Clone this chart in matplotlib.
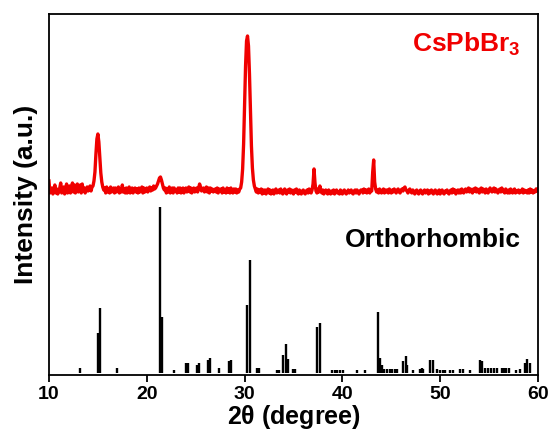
import matplotlib
matplotlib.use('Agg')
import matplotlib.pyplot as plt
import numpy as np

plt.rcParams['font.family'] = ['Liberation Sans', 'DejaVu Sans']
plt.rcParams['font.weight'] = 'bold'

# measured CsPbBr3 pattern, 0.1 deg steps from 10.0 to 60.0 (counts above background)
two_theta = np.round(np.arange(10.0, 60.05, 0.1), 1)
counts = [
    13, 1, 3, 6, 0, 4, 9, 1, 5, 0,          # 10
    3, 6, 11, 1, 4, 7, 0, 5, 10, 1,         # 11
    4, 8, 1, 6, 11, 2, 9, 1, 5, 10,         # 12
    2, 5, 9, 1, 10, 3, 6, 1, 4, 7,          # 13
    3, 6, 8, 3, 7, 8, 13, 22, 40, 55,       # 14
    60, 52, 37, 21, 12, 7, 4, 6, 1, 7,      # 15
    2, 5, 1, 7, 2, 5, 6, 1, 6, 2,           # 16
    4, 7, 1, 5, 2, 9, 2, 5, 1, 6,           # 17
    1, 5, 7, 1, 4, 6, 1, 5, 6, 2,           # 18
    5, 1, 6, 2, 4, 7, 1, 6, 2, 5,           # 19
    6, 2, 5, 7, 3, 6, 4, 8, 5, 6,           # 20
    8, 10, 13, 16, 17, 14, 10, 6, 4, 6,     # 21
    1, 5, 2, 7, 1, 4, 6, 1, 6, 3,           # 22
    4, 1, 6, 2, 6, 1, 5, 6, 1, 4,           # 23
    6, 2, 5, 7, 2, 6, 1, 5, 6, 2,           # 24
    4, 6, 2, 6, 10, 7, 3, 5, 6, 2,          # 25
    5, 7, 2, 6, 1, 6, 3, 5, 2, 4,           # 26
    5, 2, 6, 1, 5, 3, 5, 1, 6, 2,           # 27
    4, 1, 6, 2, 5, 1, 6, 3, 1, 5,           # 28
    2, 5, 1, 4, 2, 5, 6, 12, 25, 50,        # 29
    88, 128, 153, 158, 148, 120, 82, 48, 26, 14,  # 30
    8, 5, 2, 5, 1, 4, 2, 5, 0, 4,           # 31
    1, 4, 0, 3, 5, 1, 4, 0, 3, 4,           # 32
    0, 3, 5, 1, 2, 4, 1, 5, 2, 0,           # 33
    3, 5, 1, 0, 4, 2, 5, 1, 4, 2,           # 34
    0, 4, 2, 5, 1, 0, 4, 2, 0, 3,           # 35
    4, 1, 0, 3, 4, 1, 5, 2, 1, 4,           # 36
    10, 25, 11, 3, 1, 5, 2, 8, 3, 1,        # 37
    4, 0, 3, 4, 1, 0, 4, 2, 0, 3,           # 38
    1, 4, 0, 3, 4, 1, 2, 0, 4, 2,           # 39
    0, 3, 4, 1, 0, 2, 4, 1, 2, 4,           # 40
    1, 0, 3, 4, 1, 4, 2, 0, 3, 4,           # 41
    4, 1, 5, 2, 4, 1, 4, 5, 1, 4,           # 42
    3, 22, 34, 12, 5, 2, 4, 1, 5, 2,        # 43
    1, 4, 5, 1, 4, 2, 4, 1, 5, 3,           # 44
    1, 4, 2, 5, 3, 1, 4, 5, 2, 1,           # 45
    4, 5, 3, 6, 7, 4, 3, 1, 4, 5,           # 46
    2, 1, 4, 2, 0, 3, 4, 1, 0, 3,           # 47
    4, 1, 0, 3, 4, 1, 2, 4, 0, 3,           # 48
    1, 4, 2, 0, 3, 4, 1, 0, 3, 4,           # 49
    0, 3, 4, 1, 0, 3, 2, 4, 1, 0,           # 50
    3, 4, 1, 5, 2, 4, 0, 3, 4, 1,           # 51
    4, 1, 5, 3, 1, 4, 5, 2, 4, 6,           # 52
    2, 5, 3, 1, 5, 3, 6, 2, 5, 3,           # 53
    1, 5, 6, 2, 5, 3, 1, 5, 3, 1,           # 54
    4, 6, 3, 2, 5, 6, 2, 5, 3, 1,           # 55
    4, 5, 2, 6, 4, 2, 1, 5, 3, 1,           # 56
    4, 1, 5, 3, 1, 4, 5, 1, 3, 2,           # 57
    4, 1, 3, 2, 5, 1, 4, 2, 3, 1,           # 58
    4, 1, 5, 2, 4, 1, 3, 2, 5, 3,           # 59
    5,                                      # 60
]

# orthorhombic reference reflections (2theta, relative intensity)
ref_pos = [13.17, 15.0, 15.2, 16.92, 21.35, 21.59, 22.78, 24.0, 24.18, 25.1,
           25.34, 26.29, 26.43, 27.35, 28.44, 28.58, 30.28, 30.59, 31.3, 31.5,
           33.28, 33.49, 33.96, 34.23, 34.44, 34.98, 35.15, 37.45, 37.71, 38.95,
           39.2, 39.5, 39.75, 40.1, 41.46, 42.35, 43.6, 43.84, 44.08, 44.28,
           44.6, 44.85, 45.1, 45.4, 45.6, 46.23, 46.47, 46.6, 47.25, 47.93,
           48.1, 48.27, 48.96, 49.3, 49.64, 50.0, 50.25, 50.5, 51.0, 51.3,
           52.0, 52.3, 53.05, 54.07, 54.24, 54.6, 54.9, 55.2, 55.5, 55.8,
           56.3, 56.5, 56.7, 57.0, 57.8, 58.16, 58.67, 58.9, 59.2]
ref_int = [3, 24, 39, 3, 100, 34, 2, 6, 6, 5,
           6, 8, 9, 3, 7, 8, 41, 68, 3, 3,
           2, 2, 11, 17.5, 8.5, 2.5, 2.5, 28, 30, 2,
           2, 2, 2, 2, 2, 2, 37, 9, 5, 2.5,
           2.5, 2.5, 2.5, 2.5, 2.5, 7, 10, 5, 1.5, 2.5,
           3, 2.5, 8, 8, 2.5, 2, 2, 2, 2, 2,
           2.5, 2.5, 1.5, 8, 7.5, 3, 3, 3, 3, 3,
           3, 3, 3, 3, 2, 2.5, 6, 8.5, 6]

fig = plt.figure(figsize=(5.54, 4.41), dpi=100)
ax = fig.add_axes([0.0884, 0.1497, 0.8827, 0.8186])

ref_scale = 1.66   # stick pattern height
xrd_offset = 179    # vertical shift of measured pattern
ax.vlines(ref_pos, 0, np.array(ref_int) * ref_scale, colors='black', linewidth=1.7)
ax.plot(two_theta, xrd_offset + np.array(counts), color='#f00000', linewidth=2.4)

ax.set_xlim(10, 60)
ax.set_ylim(-2, 359)
ax.set_xticks([10, 20, 30, 40, 50, 60])
ax.set_yticks([])
ax.tick_params(axis='x', direction='out', length=5, width=1.3, labelsize=14, pad=3)
for lbl in ax.get_xticklabels():
    lbl.set_fontweight('bold')
for sp in ax.spines.values():
    sp.set_linewidth(1.3)

ax.set_xlabel(r'2$\mathregular{\theta}$ (degree)', fontsize=18, fontweight='bold', labelpad=0)
ax.set_ylabel('Intensity (a.u.)', fontsize=19, fontweight='bold', labelpad=8)

ax.text(0.965, 0.915, r'CsPbBr$_\mathregular{3}$', transform=ax.transAxes, ha='right', va='center',
        color='#f00000', fontsize=19, fontweight='bold')
ax.text(0.965, 0.374, 'Orthorhombic', transform=ax.transAxes, ha='right', va='center',
        color='black', fontsize=19, fontweight='bold')

plt.savefig('out.png', dpi=100)
